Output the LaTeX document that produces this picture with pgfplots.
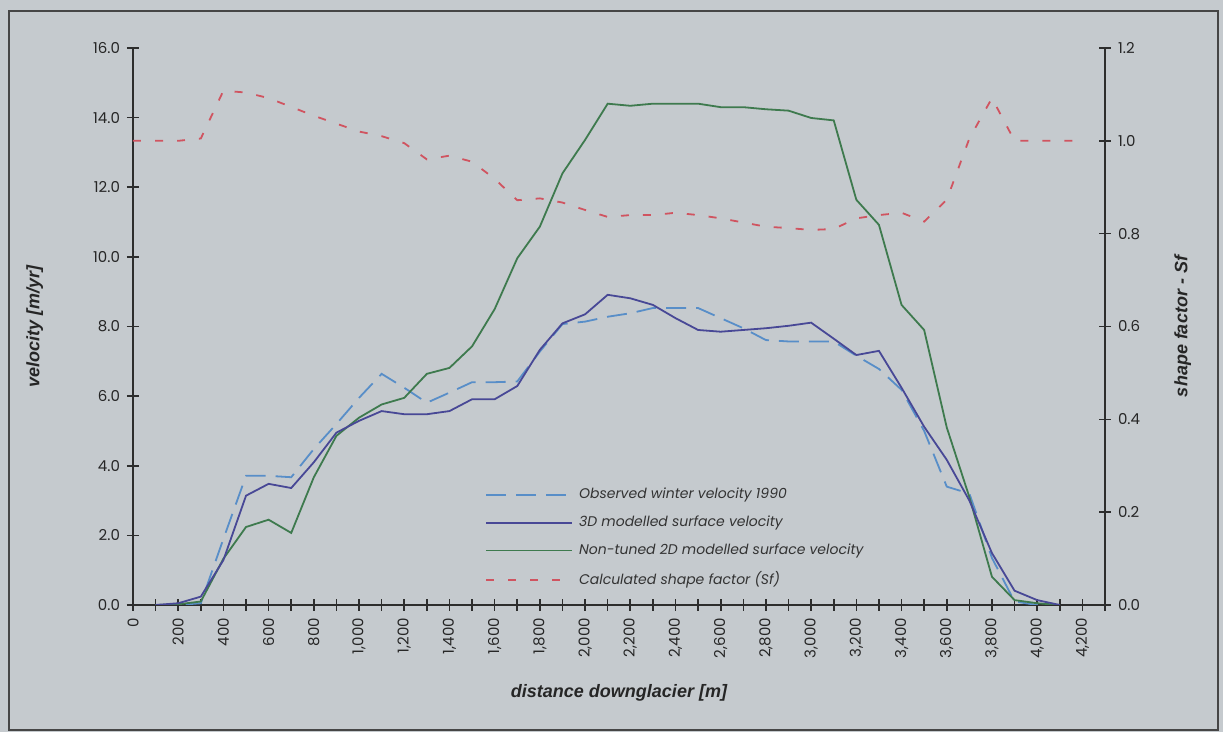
\documentclass[border=0pt]{standalone}
\usepackage{pgfplots}
\usepackage{pgfplotstable}
\pgfplotsset{compat=1.18}
\usepackage{fontspec}
\setmainfont{Liberation Sans}
\newfontfamily\gothic{Poppins}

\definecolor{panel}{RGB}{197,202,206}
\definecolor{framegray}{RGB}{70,70,70}
\definecolor{axisgray}{RGB}{45,45,45}
\definecolor{obsblue}{RGB}{88,142,200}
\definecolor{modblue}{RGB}{72,72,150}
\definecolor{modgreen}{RGB}{62,122,78}
\definecolor{sfred}{RGB}{208,84,96}

% surface velocities along the flowline [m/yr]
\pgfplotstableread{
d    obs   mthree  mtwo
100  0.00  0.00   0.00
200  0.00  0.05   0.02
300  0.05  0.24   0.10
400  1.90  1.29   1.33
500  3.71  3.14   2.24
600  3.71  3.48   2.45
700  3.67  3.36   2.07
800  4.48  4.10   3.67
900  5.20  4.95   4.86
1000 5.95  5.29   5.38
1100 6.64  5.57   5.76
1200 6.24  5.48   5.95
1300 5.81  5.48   6.64
1400 6.10  5.57   6.81
1500 6.40  5.91   7.43
1600 6.40  5.91   8.50
1700 6.42  6.29   9.96
1800 7.28  7.33   10.87
1900 8.07  8.09   12.40
2000 8.14  8.35   13.36
2100 8.28  8.91   14.40
2200 8.38  8.81   14.34
2300 8.53  8.62   14.40
2400 8.53  8.24   14.40
2500 8.53  7.90   14.40
2600 8.24  7.85   14.30
2700 7.95  7.90   14.30
2800 7.61  7.95   14.24
2900 7.57  8.02   14.20
3000 7.57  8.11   13.99
3100 7.57  7.65   13.92
3200 7.16  7.18   11.64
3300 6.78  7.30   10.92
3400 6.18  6.24   8.62
3500 5.00  5.12   7.90
3600 3.40  4.17   5.10
3700 3.20  3.00   3.10
3800 1.35  1.49   0.81
3900 0.10  0.41   0.14
4000 0.00  0.14   0.05
4100 0.00  0.00   0.00
}\velocity

% calculated shape factor Sf
\pgfplotstableread{
d    sf
0    1.000
100  1.000
200  1.000
300  1.005
400  1.108
500  1.104
600  1.092
700  1.073
800  1.054
900  1.037
1000 1.020
1100 1.010
1200 0.995
1300 0.960
1400 0.968
1500 0.955
1600 0.918
1700 0.872
1800 0.876
1900 0.867
2000 0.851
2100 0.836
2200 0.840
2300 0.840
2400 0.845
2500 0.840
2600 0.833
2700 0.824
2800 0.815
2900 0.812
3000 0.808
3100 0.810
3200 0.833
3300 0.840
3400 0.845
3500 0.826
3600 0.873
3700 1.005
3800 1.092
3900 1.000
4000 1.000
4100 1.000
4200 1.000
}\shapefactor

\newcommand\labelfont{\bfseries\itshape\fontsize{9}{11}\selectfont}

\pgfplotsset{
  common/.style={
    at={(66.5pt,63.5pt)}, anchor=south west,
    scale only axis, width=486pt, height=278.5pt,
    xmin=0, xmax=4300,
    tick align=center, major tick length=6pt, minor tick length=6pt,
    every tick/.style={line width=0.8pt, color=axisgray},
    tick label style={font=\gothic\fontsize{7.5}{9}\selectfont, text=black!85},
    /pgf/number format/assume math mode=true,
  },
  plainlines/.style={
    axis line style={-, line width=0.8pt, color=axisgray},
    x axis line style={-}, y axis line style={-},
  },
  obsstyle/.style={color=obsblue, line width=0.9pt, dash pattern=on 10pt off 5pt},
  threestyle/.style={color=modblue, line width=0.9pt},
  twostyle/.style={color=modgreen, line width=0.9pt},
  sfstyle/.style={color=sfred, line width=0.9pt, dash pattern=on 4pt off 7pt},
}

\begin{document}
\begin{tikzpicture}
\useasboundingbox (0,0) rectangle (611.5pt,366pt);
\fill[panel] (0,0) rectangle (611.5pt,366pt);
\draw[framegray, line width=1pt] (4.5pt,1pt) rectangle (609pt,360.5pt);

\begin{axis}[
  common,
  ymin=0, ymax=16,
  axis x line=bottom, axis y line=left,
  plainlines,
  xtick={0,200,...,4200},
  minor xtick={100,300,...,4300},
  ytick={0,2,4,6,8,10,12,14,16},
  xticklabel style={rotate=90, anchor=east, /pgf/number format/.cd, 1000 sep={,}},
  yticklabel style={/pgf/number format/.cd, fixed, fixed zerofill, precision=1},
  xlabel={distance downglacier [m]},
  ylabel={velocity [m/yr]},
  xlabel style={at={(axis description cs:0.5,-0.158)}, anchor=center, font=\labelfont, text=black!85},
  ylabel style={at={(axis description cs:-0.101,0.5)}, anchor=center, font=\labelfont, text=black!85},
]
\addplot[obsstyle] table[x=d, y=obs] {\velocity};
\addplot[twostyle] table[x=d, y=mtwo] {\velocity};
\addplot[threestyle] table[x=d, y=mthree] {\velocity};
\end{axis}

\begin{axis}[
  common,
  ymin=0, ymax=1.2,
  axis x line=none, axis y line=right,
  plainlines,
  ytick={0,0.2,0.4,0.6,0.8,1.0,1.2},
  yticklabel style={/pgf/number format/.cd, fixed, fixed zerofill, precision=1},
  ylabel={shape factor - Sf},
  every axis y label/.style={at={(axis description cs:1.080,0.5)}, anchor=center, rotate=90, font=\labelfont, text=black!85},
  legend style={at={(0.362,0.218)}, anchor=north west, draw=none, fill=none,
    font=\gothic\itshape\fontsize{7}{8}\selectfont, text=black!80,
    row sep=3.1pt, inner sep=0pt,
    /tikz/every odd column/.append style={column sep=1pt}},
  legend cell align=left,
  legend image code/.code={\draw[#1] (0pt,0pt) -- (43pt,0pt);},
]
\addlegendimage{obsstyle}
\addlegendentry{Observed winter velocity 1990}
\addlegendimage{threestyle}
\addlegendentry{3D modelled surface velocity}
\addlegendimage{twostyle}
\addlegendentry{Non-tuned 2D modelled surface velocity}
\addplot[sfstyle] table[x=d, y=sf] {\shapefactor};
\addlegendentry{Calculated shape factor (Sf)}
\end{axis}
\end{tikzpicture}
\end{document}
